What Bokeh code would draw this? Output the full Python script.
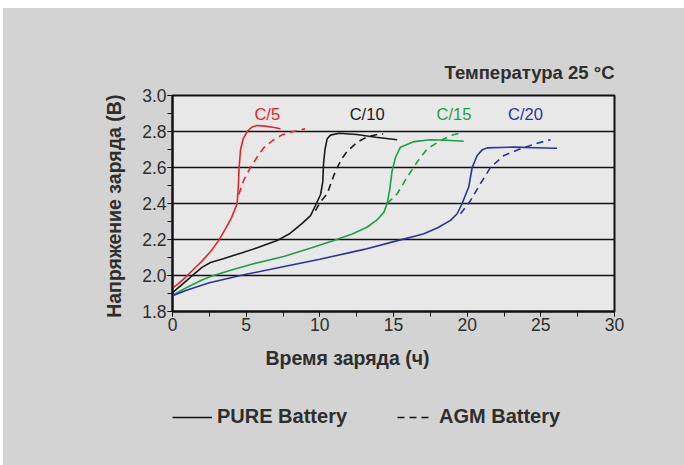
from bokeh.plotting import figure
from bokeh.layouts import column
from bokeh.models import (Range1d, SingleIntervalTicker, PrintfTickFormatter, Label,
                          Legend, LegendItem, Title)
from bokeh.embed import file_html
from bokeh.resources import INLINE

# ---------------- data ----------------
rates = ["C/5", "C/10", "C/15", "C/20"]
label_x = [6.43, 13.21, 19.1, 23.96]
label_y = [2.9, 2.9, 2.9, 2.9]

c5_pure_x = [0, 0.4, 0.88, 1.5, 2.0, 2.6, 3.14, 3.6, 4.0, 4.39, 4.47, 4.52, 4.62, 4.8, 5.07, 5.4, 5.75, 6.3, 6.9, 7.33]
c5_pure_y = [1.93, 1.955, 1.99, 2.04, 2.08, 2.135, 2.195, 2.26, 2.32, 2.40, 2.50, 2.60, 2.70, 2.76, 2.80, 2.825, 2.833, 2.83, 2.822, 2.815]
c5_agm_x = [4.5, 4.84, 5.29, 5.8, 6.2, 6.8, 7.4, 8.2, 9.0]
c5_agm_y = [2.45, 2.53, 2.60, 2.665, 2.71, 2.75, 2.78, 2.80, 2.815]

c10_pure_x = [0, 0.8, 1.5, 2.0, 2.58, 3.5, 4.62, 5.8, 7.1, 8.0, 8.8, 9.37, 9.77, 10.05, 10.2, 10.25, 10.35, 10.5, 10.72, 11.3, 12.5, 13.8, 15.25]
c10_pure_y = [1.905, 1.96, 2.01, 2.045, 2.072, 2.095, 2.124, 2.155, 2.194, 2.235, 2.29, 2.333, 2.40, 2.45, 2.52, 2.62, 2.70, 2.76, 2.78, 2.79, 2.783, 2.768, 2.754]
c10_agm_x = [9.7, 10.05, 10.5, 10.95, 11.18, 11.5, 11.86, 12.53, 13.2, 13.9, 14.3]
c10_agm_y = [2.36, 2.41, 2.454, 2.556, 2.60, 2.65, 2.69, 2.74, 2.77, 2.783, 2.786]

c15_pure_x = [0, 1.0, 2.0, 2.58, 4.0, 5.5, 7.55, 9.5, 10.95, 12.2, 13.2, 13.9, 14.35, 14.57, 14.75, 14.9, 15.14, 15.47, 16.4, 17.5, 18.6, 19.77]
c15_pure_y = [1.89, 1.935, 1.975, 1.994, 2.03, 2.065, 2.106, 2.155, 2.194, 2.23, 2.268, 2.31, 2.352, 2.40, 2.48, 2.58, 2.657, 2.713, 2.744, 2.754, 2.751, 2.746]
c15_agm_x = [14.57, 15.25, 15.93, 16.6, 17.29, 18.2, 19.0, 19.7]
c15_agm_y = [2.40, 2.454, 2.546, 2.63, 2.704, 2.75, 2.78, 2.796]

c20_pure_x = [0, 1.0, 2.5, 4.84, 7.0, 10.0, 13.0, 15.47, 16.5, 17.06, 18.0, 18.87, 19.32, 19.66, 19.9, 20.1, 20.34, 20.68, 21.02, 21.36, 22.2, 23.17, 24.6, 26.1]
c20_pure_y = [1.887, 1.92, 1.96, 2.004, 2.04, 2.09, 2.145, 2.198, 2.22, 2.232, 2.265, 2.306, 2.343, 2.40, 2.45, 2.49, 2.60, 2.667, 2.698, 2.709, 2.711, 2.713, 2.71, 2.707]
c20_agm_x = [19.55, 20.23, 20.9, 21.58, 22.5, 23.62, 24.75, 25.66]
c20_agm_y = [2.343, 2.417, 2.51, 2.60, 2.667, 2.704, 2.735, 2.754]

colors = ["#e8232b", "#1a1a1a", "#1f9e48", "#2b3499"]

x_ticks_interval = 5
y_ticks_interval = 0.2
title_text = "Температура 25 °C"
y_title = "Напряжение заряда  (В)"
x_title = "Время заряда (ч)"
legend_labels = ["PURE Battery", "AGM Battery"]

FONT = "Liberation Sans"
TXT = "#2e2e2e"
BG = "#d3d3d3"

p = figure(width=681, height=377, output_backend="svg", toolbar_location=None,
           x_range=Range1d(0, 30), y_range=Range1d(1.8, 3.0),
           min_border_left=169, min_border_right=70, min_border_top=87, min_border_bottom=74)
p.border_fill_color = BG
p.background_fill_color = "#e8e8e8"
p.outline_line_color = "#111111"
p.outline_line_width = 2

# title (top right)
p.title = Title(text=title_text, align="right", text_font=FONT, text_font_size="18.5px",
                text_font_style="bold", text_color=TXT, standoff=26)

# axes
p.xaxis.ticker = SingleIntervalTicker(interval=x_ticks_interval, num_minor_ticks=2)
p.yaxis.ticker = SingleIntervalTicker(interval=y_ticks_interval, num_minor_ticks=2)
p.yaxis.formatter = PrintfTickFormatter(format="%.1f")
for ax in (p.xaxis, p.yaxis):
    ax.axis_line_color = "#111111"
    ax.axis_line_width = 2
    ax.major_tick_line_color = "#111111"
    ax.minor_tick_line_color = "#111111"
    ax.major_tick_out = 5
    ax.major_tick_in = 0
    ax.minor_tick_out = 5
    ax.minor_tick_in = 0
    ax.major_label_text_font = FONT
    ax.major_label_text_font_size = "17.5px"
    ax.major_label_text_color = TXT
p.xaxis.major_label_standoff = 1
p.yaxis.major_label_standoff = 1
p.yaxis.axis_label = y_title
p.yaxis.axis_label_text_font = FONT
p.yaxis.axis_label_text_font_size = "19.5px"
p.yaxis.axis_label_text_font_style = "bold"
p.yaxis.axis_label_text_color = TXT
p.yaxis.axis_label_standoff = 14

p.xgrid.grid_line_color = None
p.ygrid.grid_line_color = "#111111"
p.ygrid.grid_line_width = 1.5

series = [
    (c5_pure_x, c5_pure_y, c5_agm_x, c5_agm_y),
    (c10_pure_x, c10_pure_y, c10_agm_x, c10_agm_y),
    (c15_pure_x, c15_pure_y, c15_agm_x, c15_agm_y),
    (c20_pure_x, c20_pure_y, c20_agm_x, c20_agm_y),
]
pure_renderers, agm_renderers = [], []
for (px_, py_, ax_, ay_), col in zip(series, colors):
    pure_renderers.append(p.line(px_, py_, line_color=col, line_width=1.6))
    agm_renderers.append(p.line(ax_, ay_, line_color=col, line_width=1.6, line_dash="7 5"))

for name, lx, ly, col in zip(rates, label_x, label_y, colors):
    p.add_layout(Label(x=lx, y=ly, text=name, text_align="center", text_baseline="middle",
                       text_font=FONT, text_font_size="16.5px", text_color=col))

# x-axis title (below, offset to the left like the reference)
p.add_layout(Title(text=x_title, align="left", offset=93, text_font=FONT, text_font_size="19.5px",
                   text_font_style="bold", text_color=TXT, standoff=22), "below")

# legend strip below the chart (its frame is aligned with the chart frame)
q = figure(width=681, height=80, output_backend="svg", toolbar_location=None,
           x_range=Range1d(0, 1), y_range=Range1d(0, 1),
           x_axis_location=None, y_axis_location=None, min_border=0)
q.border_fill_color = BG
q.background_fill_alpha = 0
q.outline_line_color = None
q.grid.visible = False
# legend key renderers: same style as the black series, drawn outside the strip's range
solid_r = q.line(x=c10_pure_x, y=c10_pure_y, line_color="#111111", line_width=1.6)
dash_r = q.line(x=c10_agm_x, y=c10_agm_y, line_color="#111111", line_width=1.6, line_dash="7 5")


def add_legend(item, loc, glyph_w, standoff):
    lg = Legend(items=[item], location=loc, orientation="horizontal",
                glyph_width=glyph_w, glyph_height=20, label_height=20,
                label_standoff=standoff, padding=0, margin=0, spacing=0,
                border_line_color=None, background_fill_alpha=0,
                label_text_font=FONT, label_text_font_size="20px",
                label_text_font_style="bold", label_text_color=TXT)
    q.add_layout(lg, "center")


add_legend(LegendItem(label=legend_labels[0], renderers=[solid_r]), (0, 37), 40, 5)
add_legend(LegendItem(label=legend_labels[1], renderers=[dash_r]), (225, 37), 32, 10)

root = column(p, q, spacing=0, margin=(8, 0, 0, 3), styles={"background-color": BG})
open("out.html", "w").write(file_html(root, INLINE))
